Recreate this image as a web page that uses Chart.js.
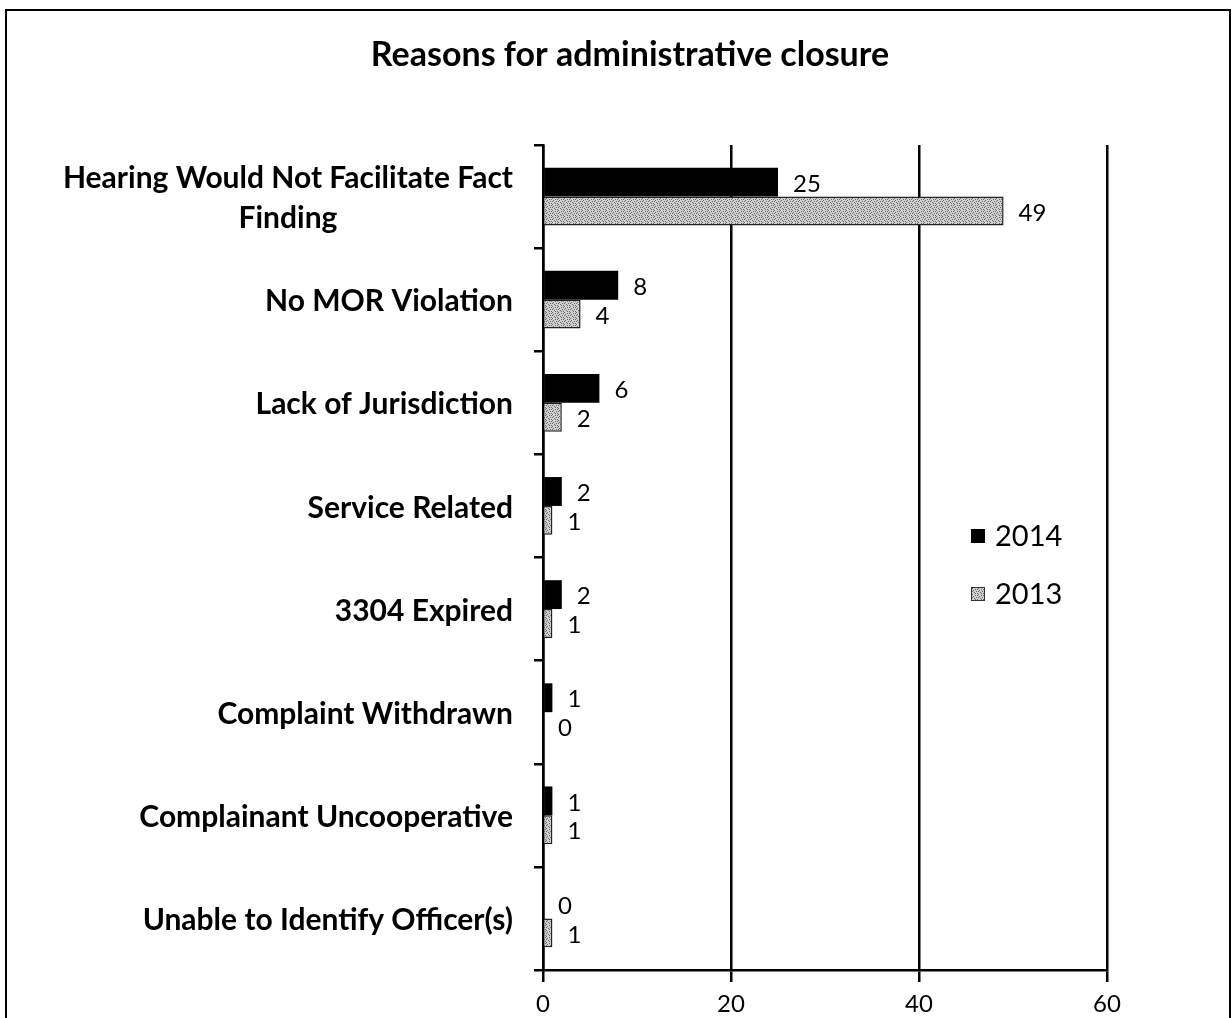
<!DOCTYPE html>
<html>
<head>
<meta charset="utf-8">
<script src="https://cdn.jsdelivr.net/npm/chart.js@4.4.1/dist/chart.umd.min.js"></script>
<style>
  html, body { margin: 0; padding: 0; background: #fff; }
  #frame { position: absolute; left: 5px; top: 9px; width: 1222px; height: 1020px;
           border: 2px solid #000; border-bottom: none; }
  #wrap { position: absolute; left: 0; top: 0; width: 1232px; height: 1018px; }
</style>
</head>
<body>
<div id="frame"></div>
<div id="wrap"><canvas id="c"></canvas></div>
<script>
// data
const categories = [
  ['Hearing Would Not Facilitate Fact', 'Finding'],
  'No MOR Violation',
  'Lack of Jurisdiction',
  'Service Related',
  '3304 Expired',
  'Complaint Withdrawn',
  'Complainant Uncooperative',
  'Unable to Identify Officer(s)'
];
const values2014 = [25, 8, 6, 2, 2, 1, 1, 0];
const values2013 = [49, 4, 2, 1, 1, 0, 1, 1];
const seriesNames = ['2014', '2013'];
const xTicks = [0, 20, 40, 60];
const chartTitle = 'Reasons for administrative closure';

// grey dithered fill for 2013
function makePattern() {
  const p = document.createElement('canvas');
  p.width = 6; p.height = 6;
  const g = p.getContext('2d');
  g.fillStyle = '#cfcfcf';
  g.fillRect(0, 0, 6, 6);
  g.fillStyle = '#6a6a6a';
  const dots = [[0,0],[3,1],[1,2],[4,3],[2,4],[5,5],[0,3],[3,5],[5,1]];
  dots.forEach(d => g.fillRect(d[0], d[1], 1, 1));
  return g.createPattern(p, 'repeat');
}
const greyFill = makePattern();

const valueLabels = {
  id: 'valueLabels',
  afterDatasetsDraw(chart) {
    const ctx = chart.ctx;
    ctx.save();
    ctx.font = '24px Lato';
    ctx.fillStyle = '#000';
    ctx.textBaseline = 'middle';
    ctx.textAlign = 'left';
    chart.data.datasets.forEach((ds, i) => {
      chart.getDatasetMeta(i).data.forEach((bar, j) => {
        ctx.fillText(String(ds.data[j]), bar.x + 15, bar.y + 2);
      });
    });
    ctx.restore();
  }
};

// category labels: block right-aligned at the axis, lines centred within it
const catLabels = {
  id: 'catLabels',
  afterDraw(chart) {
    const ctx = chart.ctx;
    const y = chart.scales.y;
    ctx.save();
    ctx.font = 'bold 30px Lato';
    ctx.fillStyle = '#000';
    ctx.textBaseline = 'middle';
    ctx.textAlign = 'center';
    const right = 513;
    categories.forEach((lab, i) => {
      const lines = Array.isArray(lab) ? lab : [lab];
      const w = Math.max(...lines.map(l => ctx.measureText(l).width));
      const cy = y.getPixelForValue(i);
      const step = 40;
      lines.forEach((l, k) => {
        ctx.fillText(l, right - w / 2, cy + (k - (lines.length - 1) / 2) * step + 2);
      });
    });
    ctx.restore();
  }
};

const titleAndLegend = {
  id: 'titleAndLegend',
  afterDraw(chart) {
    const ctx = chart.ctx;
    ctx.save();
    ctx.fillStyle = '#000';
    ctx.font = 'bold 34px Lato';
    ctx.textAlign = 'center';
    ctx.textBaseline = 'middle';
    ctx.fillText(chartTitle, 630, 55);

    const fills = ['#000', greyFill];
    ctx.font = '29px Lato';
    ctx.textAlign = 'left';
    seriesNames.forEach((name, i) => {
      const y = 536 + i * 58;
      ctx.fillStyle = fills[i];
      ctx.fillRect(971, y - 7, 14, 14);
      if (i === 1) { ctx.strokeStyle = '#333'; ctx.lineWidth = 1; ctx.strokeRect(971.5, y - 6.5, 13, 13); }
      ctx.fillStyle = '#000';
      ctx.fillText(name, 995, y + 1);
    });
    ctx.restore();
  }
};

new Chart(document.getElementById('c'), {
  type: 'bar',
  data: {
    labels: categories,
    datasets: [
      { label: seriesNames[0], data: values2014, backgroundColor: '#000',
        borderColor: '#000', borderWidth: 0 },
      { label: seriesNames[1], data: values2013, backgroundColor: greyFill,
        borderColor: '#222', borderWidth: 1.5 }
    ]
  },
  options: {
    indexAxis: 'y',
    responsive: true,
    maintainAspectRatio: false,
    animation: false,
    layout: { padding: { left: 0, right: 125, top: 145, bottom: 0 } },
    datasets: { bar: { categoryPercentage: 0.56, barPercentage: 1.0 } },
    plugins: {
      legend: { display: false },
      tooltip: { enabled: false },
      title: { display: false }
    },
    scales: {
      x: {
        min: 0, max: 60,
        afterBuildTicks(scale) { scale.ticks = xTicks.map(v => ({ value: v })); },
        afterFit(scale) { scale.height = 48; },
        grid: { color: '#000', lineWidth: 2.5, tickLength: 12, drawTicks: true },
        border: { color: '#000', width: 2.5 },
        ticks: { color: '#000', padding: 8, font: { family: 'Lato', size: 24 } }
      },
      y: {
        afterFit(scale) { scale.width = 543; },
        grid: { drawOnChartArea: false, drawTicks: true, tickLength: 9, color: '#000', lineWidth: 2.5, offset: true },
        border: { color: '#000', width: 2.5 },
        ticks: { display: false }
      }
    }
  },
  plugins: [valueLabels, catLabels, titleAndLegend]
});
</script>
</body>
</html>
